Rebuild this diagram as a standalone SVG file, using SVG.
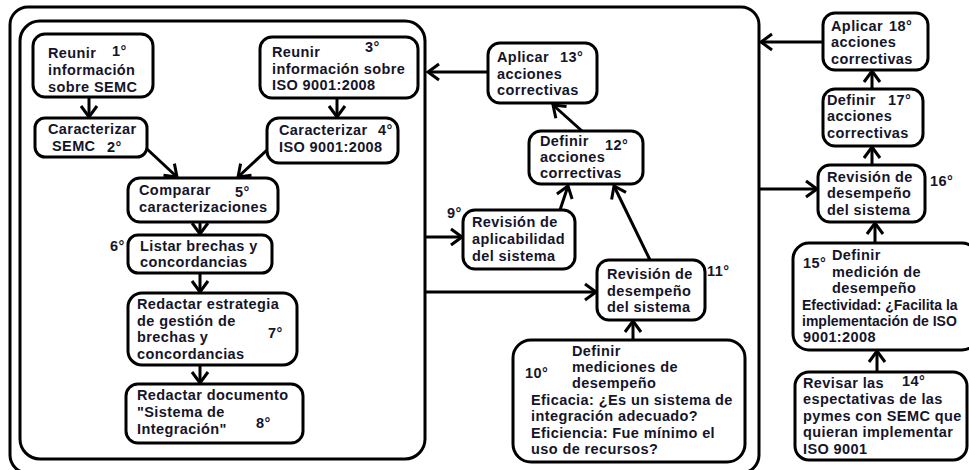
<svg xmlns="http://www.w3.org/2000/svg" width="969" height="470" viewBox="0 0 969 470">
  <style>
    .frame { fill: none; stroke: #000; stroke-width: 3; }
    .box { fill: #fff; stroke: #000; stroke-width: 3; }
    .t { font-family: "Liberation Sans", Arial, sans-serif; font-size: 14.5px; letter-spacing: 0.4px; font-weight: bold; fill: #15152a; }
    .tn { font-family: "Liberation Sans", Arial, sans-serif; font-size: 14px; letter-spacing: 0px; font-weight: bold; fill: #15152a; }
    .c { fill: none; stroke: #000; stroke-width: 3; marker-end: url(#arrow); }
  </style>
  <defs>
    <marker id="arrow" markerUnits="userSpaceOnUse" viewBox="-14 -12 17 24" refX="0" refY="0" markerWidth="17" markerHeight="24" orient="auto">
      <path d="M-11,-8 L0,0 L-11,8" fill="none" stroke="#000" stroke-width="3"/>
    </marker>
  </defs>

  <rect width="969" height="470" fill="#fff"/>

  <!-- outer and inner frames -->
  <rect class="frame" x="10" y="7" width="749" height="466" rx="18"/>
  <rect class="frame" x="20" y="21" width="405" height="438" rx="20"/>

  <!-- connectors -->
  <g id="connectors">
    <path class="c" d="M89,97 V117"/>
    <path class="c" d="M337,98 V117"/>
    <path class="c" d="M147,149 L177,177"/>
    <path class="c" d="M267,150 L238,177"/>
    <path class="c" d="M200,222 V234"/>
    <path class="c" d="M200,273 V292"/>
    <path class="c" d="M200,365 V383"/>
    <path class="c" d="M488,72 H428"/>
    <path class="c" d="M582,131 L553,105"/>
    <path class="c" d="M560,210 L568,186"/>
    <path class="c" d="M650,260 L614,186"/>
    <path class="c" d="M425,237 H462"/>
    <path class="c" d="M425,292 H596"/>
    <path class="c" d="M633,340 V321"/>
    <path class="c" d="M877,372 V351"/>
    <path class="c" d="M875,243 V223"/>
    <path class="c" d="M872,165 V147"/>
    <path class="c" d="M872,89 V71"/>
    <path class="c" d="M823,42 H761"/>
    <path class="c" d="M759,189 H817"/>
  </g>

  <g id="n1">
    <rect class="box" x="33" y="34" width="120" height="63" rx="12"/>
    <text class="t" x="48" y="58">Reunir</text>
    <text class="t" x="112" y="56">1°</text>
    <text class="t" x="48" y="75">información</text>
    <text class="t" x="48" y="92">sobre SEMC</text>
  </g>

  <g id="n2">
    <rect class="box" x="35" y="118" width="112" height="39" rx="10"/>
    <text class="t" x="48" y="134">Caracterizar</text>
    <text class="t" x="52" y="151">SEMC</text>
    <text class="t" x="107" y="152">2°</text>
  </g>

  <g id="n3">
    <rect class="box" x="260" y="37" width="158" height="61" rx="12"/>
    <text class="t" x="272" y="57">Reunir</text>
    <text class="t" x="365" y="52">3°</text>
    <text class="t" x="272" y="74">información sobre</text>
    <text class="t" x="272" y="90">ISO 9001:2008</text>
  </g>

  <g id="n4">
    <rect class="box" x="267" y="118" width="131" height="45" rx="12"/>
    <text class="t" x="279" y="135">Caracterizar</text>
    <text class="t" x="378" y="135">4°</text>
    <text class="t" x="279" y="152">ISO 9001:2008</text>
  </g>

  <g id="n5">
    <rect class="box" x="128" y="178" width="150" height="44" rx="12"/>
    <text class="t" x="139" y="195">Comparar</text>
    <text class="t" x="235" y="197">5°</text>
    <text class="t" x="139" y="212">caracterizaciones</text>
  </g>

  <g id="n6">
    <rect class="box" x="128" y="235" width="144" height="38" rx="10"/>
    <text class="t" x="110" y="251">6°</text>
    <text class="t" x="140" y="251">Listar brechas y</text>
    <text class="t" x="140" y="267">concordancias</text>
  </g>

  <g id="n7">
    <rect class="box" x="128" y="293" width="169" height="72" rx="14"/>
    <text class="t" x="137" y="309">Redactar estrategia</text>
    <text class="t" x="137" y="326">de gestión de</text>
    <text class="t" x="137" y="342">brechas y</text>
    <text class="t" x="268" y="338">7°</text>
    <text class="t" x="137" y="359">concordancias</text>
  </g>

  <g id="n8">
    <rect class="box" x="126" y="384" width="177" height="59" rx="12"/>
    <text class="t" x="137" y="400">Redactar documento</text>
    <text class="t" x="137" y="417">"Sistema de</text>
    <text class="t" x="256" y="428">8°</text>
    <text class="t" x="137" y="434">Integración"</text>
  </g>

  <g id="n9">
    <rect class="box" x="463" y="210" width="112" height="59" rx="12"/>
    <text class="t" x="447" y="218">9°</text>
    <text class="t" x="472" y="227">Revisión de</text>
    <text class="t" x="472" y="244">aplicabilidad</text>
    <text class="t" x="472" y="261">del sistema</text>
  </g>

  <g id="n10">
    <rect class="box" x="513" y="340" width="232" height="122" rx="18"/>
    <text class="t" x="572" y="356">Definir</text>
    <text class="t" x="525" y="378">10°</text>
    <text class="t" x="572" y="372">mediciones de</text>
    <text class="t" x="572" y="388">desempeño</text>
    <text class="t" x="531" y="405">Eficacia: ¿Es un sistema de</text>
    <text class="t" x="531" y="421">integración adecuado?</text>
    <text class="t" x="531" y="438">Eficiencia: Fue mínimo el</text>
    <text class="t" x="531" y="454">uso de recursos?</text>
  </g>

  <g id="n11">
    <rect class="box" x="597" y="260" width="108" height="60" rx="12"/>
    <text class="t" x="607" y="279">Revisión de</text>
    <text class="t" x="707" y="276">11°</text>
    <text class="t" x="607" y="296">desempeño</text>
    <text class="t" x="607" y="312">del sistema</text>
  </g>

  <g id="n12">
    <rect class="box" x="529" y="131" width="114" height="53" rx="12"/>
    <text class="t" x="540" y="146">Definir</text>
    <text class="t" x="605" y="150">12°</text>
    <text class="t" x="540" y="162">acciones</text>
    <text class="t" x="540" y="178">correctivas</text>
  </g>

  <g id="n13">
    <rect class="box" x="488" y="43" width="109" height="60" rx="12"/>
    <text class="t" x="497" y="62">Aplicar</text>
    <text class="t" x="560" y="62">13°</text>
    <text class="t" x="497" y="79">acciones</text>
    <text class="t" x="497" y="95">correctivas</text>
  </g>

  <g id="n14">
    <rect class="box" x="795" y="372" width="172" height="88" rx="14"/>
    <text class="t" x="803" y="388">Revisar las</text>
    <text class="t" x="902" y="386">14°</text>
    <text class="t" x="803" y="404">espectativas de las</text>
    <text class="t" x="803" y="421">pymes con SEMC que</text>
    <text class="t" x="803" y="437">quieran implementar</text>
    <text class="t" x="803" y="454">ISO 9001</text>
  </g>

  <g id="n15">
    <rect class="box" x="793" y="243" width="185" height="107" rx="16"/>
    <text class="t" x="832" y="260">Definir</text>
    <text class="t" x="803" y="268">15°</text>
    <text class="t" x="832" y="277">medición de</text>
    <text class="t" x="832" y="293">desempeño</text>
    <text class="tn" x="802" y="310">Efectividad: ¿Facilita la</text>
    <text class="tn" x="802" y="326">implementación de ISO</text>
    <text class="t" x="803" y="342">9001:2008</text>
  </g>

  <g id="n16">
    <rect class="box" x="818" y="165" width="107" height="57" rx="12"/>
    <text class="t" x="827" y="182">Revisión de</text>
    <text class="t" x="930" y="186">16°</text>
    <text class="t" x="827" y="198">desempeño</text>
    <text class="t" x="827" y="215">del sistema</text>
  </g>

  <g id="n17">
    <rect class="box" x="823" y="89" width="100" height="57" rx="12"/>
    <text class="t" x="827" y="105">Definir</text>
    <text class="t" x="888" y="105">17°</text>
    <text class="t" x="827" y="121">acciones</text>
    <text class="t" x="827" y="138">correctivas</text>
  </g>

  <g id="n18">
    <rect class="box" x="823" y="13" width="105" height="57" rx="12"/>
    <text class="t" x="831" y="31">Aplicar</text>
    <text class="t" x="889" y="31">18°</text>
    <text class="t" x="831" y="47">acciones</text>
    <text class="t" x="831" y="64">correctivas</text>
  </g>
</svg>
